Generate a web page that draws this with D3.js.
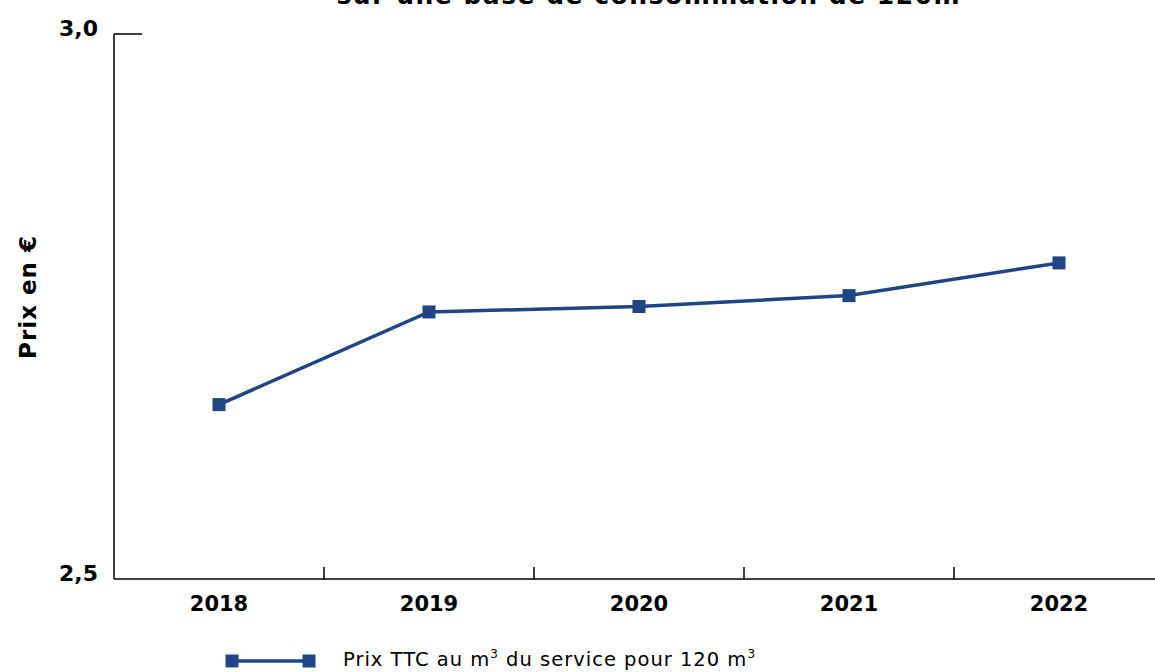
<!DOCTYPE html>
<html>
<head>
  <meta charset="utf-8">
  <title>Prix TTC au m3</title>
  <script src="https://d3js.org/d3.v7.min.js"></script>
  <style>
    body { margin: 0; background: #fff; }
    svg text { font-family: "DejaVu Sans", sans-serif; fill: #000; }
  </style>
</head>
<body>
<script>
// data
var years = ["2018", "2019", "2020", "2021", "2022"];
var prices = [2.66, 2.745, 2.75, 2.76, 2.79];
var yTicks = [2.5, 3.0];
var titleText = "sur une base de consommation de 120m³";

var W = 1155, H = 672;
var color = "#1f4585";

var svg = d3.select("body").append("svg")
  .attr("width", W)
  .attr("height", H);

var x = d3.scaleBand().domain(years).range([114, 1164]).padding(0);
var y = d3.scaleLinear().domain([2.5, 3.0]).range([579, 34]);

// title (cut at the top, as in the source)
svg.append("text")
  .attr("x", 655)
  .attr("y", 4)
  .attr("text-anchor", "middle")
  .style("font-size", "25px")
  .style("letter-spacing", "1.5px")
  .style("font-weight", "bold")
  .text(titleText);

// x axis
var xAxis = svg.append("g")
  .attr("transform", "translate(0," + y(2.5) + ")");
xAxis.append("line")
  .attr("x1", 114).attr("x2", W)
  .attr("y1", 0).attr("y2", 0)
  .attr("stroke", "#000").attr("stroke-width", 1.5);
xAxis.selectAll(".xtick")
  .data(years.slice(1))
  .enter()
  .append("line")
  .attr("x1", function(d) { return x(d); })
  .attr("x2", function(d) { return x(d); })
  .attr("y1", -12).attr("y2", 0)
  .attr("stroke", "#000").attr("stroke-width", 1.5);
xAxis.selectAll(".xlab")
  .data(years)
  .enter()
  .append("text")
  .attr("x", function(d) { return x(d) + x.bandwidth() / 2; })
  .attr("y", 32)
  .attr("text-anchor", "middle")
  .style("font-size", "21px")
  .style("font-weight", "bold")
  .text(function(d) { return d; });

// y axis
svg.append("line")
  .attr("x1", 114).attr("x2", 114)
  .attr("y1", y(3.0)).attr("y2", y(2.5))
  .attr("stroke", "#000").attr("stroke-width", 1.5);
svg.append("line")
  .attr("x1", 114).attr("x2", 142)
  .attr("y1", y(3.0)).attr("y2", y(3.0))
  .attr("stroke", "#000").attr("stroke-width", 1.5);
svg.selectAll(".ylab")
  .data(yTicks)
  .enter()
  .append("text")
  .attr("x", 98)
  .attr("y", function(d) { return y(d) + 2; })
  .attr("text-anchor", "end")
  .style("font-size", "22px")
  .style("font-weight", "bold")
  .text(function(d) { return d3.format(".1f")(d).replace(".", ","); });

svg.append("text")
  .attr("transform", "translate(36,297) rotate(-90)")
  .attr("text-anchor", "middle")
  .style("font-size", "23px")
  .style("letter-spacing", "1px")
  .style("font-weight", "bold")
  .text("Prix en €");

// line
var line = d3.line()
  .x(function(d, i) { return x(years[i]) + x.bandwidth() / 2; })
  .y(function(d) { return y(d); });

svg.append("path")
  .datum(prices)
  .attr("d", line)
  .attr("fill", "none")
  .attr("stroke", color)
  .attr("stroke-width", 3.5);

svg.selectAll(".pt")
  .data(prices)
  .enter()
  .append("rect")
  .attr("x", function(d, i) { return x(years[i]) + x.bandwidth() / 2 - 6.5; })
  .attr("y", function(d) { return y(d) - 6.5; })
  .attr("width", 13).attr("height", 13)
  .attr("fill", color);

// legend
var lg = svg.append("g").attr("transform", "translate(0,661)");
lg.append("line")
  .attr("x1", 232).attr("x2", 309)
  .attr("y1", 0).attr("y2", 0)
  .attr("stroke", color).attr("stroke-width", 3.5);
lg.selectAll("rect")
  .data([232, 309])
  .enter()
  .append("rect")
  .attr("x", function(d) { return d - 6.5; })
  .attr("y", -6.5)
  .attr("width", 13).attr("height", 13)
  .attr("fill", color);
var lt = lg.append("text")
  .attr("x", 343)
  .attr("y", 5)
  .style("font-size", "19.5px")
  .style("letter-spacing", "1px");
lt.append("tspan").text("Prix TTC au m");
lt.append("tspan").attr("dy", -8).style("font-size", "12px").text("3");
lt.append("tspan").attr("dy", 8).text(" du service pour 120 m");
lt.append("tspan").attr("dy", -8).style("font-size", "12px").text("3");
</script>
</body>
</html>
